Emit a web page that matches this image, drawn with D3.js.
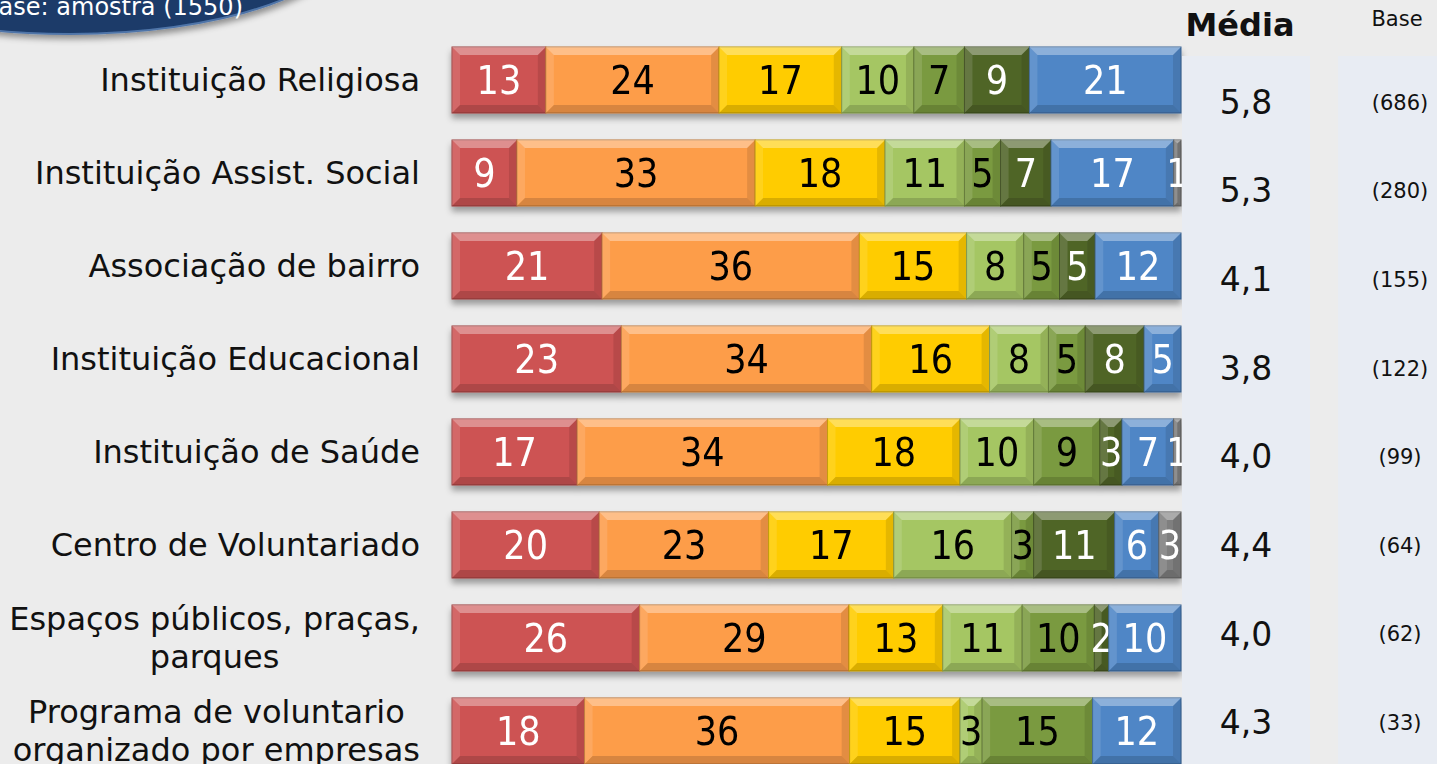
<!DOCTYPE html>
<html>
<head>
<meta charset="utf-8">
<script src="https://d3js.org/d3.v7.min.js"></script>
<style>
  html, body { margin: 0; padding: 0; background: #ececec; overflow: hidden; }
  svg { display: block; }
</style>
</head>
<body>
<svg id="drawing_region"></svg>
<script>
// categories (row labels, "\n" = line break)
const categories = [
    "Instituição Religiosa",
    "Instituição Assist. Social",
    "Associação de bairro",
    "Instituição Educacional",
    "Instituição de Saúde",
    "Centro de Voluntariado",
    "Espaços públicos, praças,\nparques",
    "Programa de voluntario\norganizado por empresas"
];

// stacked series, left to right
const serRed       = [13,  9, 21, 23, 17, 20, 26, 18];
const serOrange    = [24, 33, 36, 34, 34, 23, 29, 36];
const serYellow    = [17, 18, 15, 16, 18, 17, 13, 15];
const serLightGrn  = [10, 11,  8,  8, 10, 16, 11,  3];
const serMidGrn    = [ 7,  5,  5,  5,  9,  3, 10, 15];
const serDarkGrn   = [ 9,  7,  5,  8,  3, 11,  2,  0];
const serBlue      = [21, 17, 12,  5,  7,  6, 10, 12];
const serGray      = [ 0,  1,  0,  0,  1,  3,  0,  0];

const medias = ["5,8", "5,3", "4,1", "3,8", "4,0", "4,4", "4,0", "4,3"];
const bases  = ["(686)", "(280)", "(155)", "(122)", "(99)", "(64)", "(62)", "(33)"];

const keys   = ["red", "orange", "yellow", "lgreen", "mgreen", "dgreen", "blue", "gray"];
const colors = ["#cd5353", "#fd9d4a", "#ffcc00", "#a5c663", "#7a9a40", "#506528", "#4f86c6", "#7f7f7f"];
const textColors = ["#fff", "#000", "#000", "#000", "#000", "#fff", "#fff", "#fff"];

const table = categories.map((c, i) => ({
    cat: c,
    red: serRed[i], orange: serOrange[i], yellow: serYellow[i], lgreen: serLightGrn[i],
    mgreen: serMidGrn[i], dgreen: serDarkGrn[i], blue: serBlue[i], gray: serGray[i]
}));

var config = {
    width: 1437,
    height: 764,
    barLeft: 452,
    barRight: 1181,
    barTop: 47,
    barBottom: 764
};

const svg = d3.select('#drawing_region')
    .attr('width', config.width)
    .attr('height', config.height);

const defs = svg.append('defs');
const shadow = defs.append('filter').attr('id', 'shadow')
    .attr('x', '-5%').attr('y', '-20%').attr('width', '110%').attr('height', '160%');
shadow.append('feDropShadow')
    .attr('dx', 0).attr('dy', 5).attr('stdDeviation', 3)
    .attr('flood-color', '#000').attr('flood-opacity', 0.35);

const badgeShadow = defs.append('filter').attr('id', 'badgeShadow')
    .attr('x', '-10%').attr('y', '-10%').attr('width', '120%').attr('height', '140%');
badgeShadow.append('feDropShadow')
    .attr('dx', 2).attr('dy', 4).attr('stdDeviation', 3)
    .attr('flood-color', '#000').attr('flood-opacity', 0.4);

// top left badge (cut by the page edge, like the original)
svg.append('ellipse')
    .attr('cx', 70).attr('cy', -66).attr('rx', 282).attr('ry', 100)
    .attr('fill', '#1a3a69')
    .attr('stroke', '#4f74a8').attr('stroke-width', 2)
    .attr('filter', 'url(#badgeShadow)');
svg.append('text')
    .attr('x', 243).attr('y', 15)
    .attr('text-anchor', 'end')
    .attr('font-family', 'DejaVu Sans, Verdana, sans-serif')
    .attr('font-size', '24px')
    .attr('fill', '#fff')
    .text('Base: amostra (1550)');

// scales
const yscale = d3.scaleBand()
    .domain(categories)
    .range([config.barTop, config.barBottom])
    .paddingInner(0.29)
    .paddingOuter(0);

const tscale = d3.scaleBand()
    .domain(categories)
    .range([58, 767]);

const stacked = d3.stack().keys(keys)(table);

const rows = svg.append('g').selectAll('g')
    .data(table)
    .join('g')
    .attr('filter', 'url(#shadow)');

rows.each(function(d, i) {
    const total = d3.sum(keys, k => d[k]);
    const xscale = d3.scaleLinear()
        .domain([0, total])
        .range([config.barLeft, config.barRight]);
    const y0 = yscale(d.cat);
    const h = yscale.bandwidth();

    const segs = keys.map((k, j) => ({
        key: k, idx: j, value: d[k],
        x0: xscale(stacked[j][i][0]),
        x1: xscale(stacked[j][i][1])
    })).filter(s => s.value > 0);

    const g = d3.select(this);
    const sg = g.selectAll('g.seg').data(segs).join('g').attr('class', 'seg');

    sg.append('rect')
        .attr('x', s => s.x0)
        .attr('y', y0)
        .attr('width', s => s.x1 - s.x0)
        .attr('height', h)
        .attr('fill', s => colors[s.idx])
        .attr('stroke', s => d3.color(colors[s.idx]).darker(0.8))
        .attr('stroke-width', 1);

    // bevel faces
    const bev = s => Math.min(8, (s.x1 - s.x0) / 2);
    sg.append('polygon')
        .attr('points', s => {
            const b = bev(s);
            return [[s.x0, y0], [s.x1, y0], [s.x1 - b, y0 + b], [s.x0 + b, y0 + b]].join(' ');
        })
        .attr('fill', '#fff').attr('opacity', 0.35);
    sg.append('polygon')
        .attr('points', s => {
            const b = bev(s);
            return [[s.x0, y0 + h], [s.x1, y0 + h], [s.x1 - b, y0 + h - b], [s.x0 + b, y0 + h - b]].join(' ');
        })
        .attr('fill', '#000').attr('opacity', 0.15);
    sg.append('polygon')
        .attr('points', s => {
            const b = bev(s);
            return [[s.x0, y0], [s.x0 + b, y0 + b], [s.x0 + b, y0 + h - b], [s.x0, y0 + h]].join(' ');
        })
        .attr('fill', '#fff').attr('opacity', 0.12);
    sg.append('polygon')
        .attr('points', s => {
            const b = bev(s);
            return [[s.x1, y0], [s.x1 - b, y0 + b], [s.x1 - b, y0 + h - b], [s.x1, y0 + h]].join(' ');
        })
        .attr('fill', '#000').attr('opacity', 0.1);

    sg.append('text')
        .attr('x', s => (s.x0 + s.x1) / 2)
        .attr('y', y0 + h / 2)
        .attr('dy', '0.36em')
        .attr('text-anchor', 'middle')
        .attr('font-family', 'DejaVu Sans Condensed, DejaVu Sans, sans-serif')
        .attr('font-stretch', 'condensed')
        .attr('font-size', '39px')
        .attr('fill', s => textColors[s.idx])
        .text(s => s.value);
});

// row labels
const labels = svg.append('g');
categories.forEach(c => {
    const lines = c.split('\n');
    const cy = yscale(c) + yscale.bandwidth() / 2;
    const t = labels.append('text')
        .attr('font-family', 'DejaVu Sans, Verdana, sans-serif')
        .attr('font-size', '32px')
        .attr('fill', '#111');
    if (lines.length === 1) {
        t.attr('x', 420).attr('y', cy).attr('dy', '0.35em')
            .attr('text-anchor', 'end').text(c);
    } else {
        const lh = 38;
        lines.forEach((ln, k) => {
            t.append('tspan')
                .attr('y', cy + (k - (lines.length - 1) / 2) * lh)
                .attr('dy', '0.35em')
                .text(ln);
        });
        const w = d3.max(t.selectAll('tspan').nodes(), n => n.getComputedTextLength());
        t.attr('text-anchor', 'middle');
        t.selectAll('tspan').attr('x', 420 - w / 2);
    }
});

// table panels
svg.append('rect')
    .attr('x', 1182).attr('y', 56).attr('width', 128).attr('height', 708)
    .attr('fill', '#e8ecf3');
svg.append('rect')
    .attr('x', 1338).attr('y', 56).attr('width', 99).attr('height', 708)
    .attr('fill', '#e8ecf3');

svg.append('text')
    .attr('x', 1240).attr('y', 25).attr('dy', '0.35em')
    .attr('text-anchor', 'middle')
    .attr('font-family', 'DejaVu Sans, Verdana, sans-serif')
    .attr('font-weight', 'bold')
    .attr('font-size', '32px')
    .attr('fill', '#111')
    .text('Média');

svg.append('text')
    .attr('x', 1397).attr('y', 19).attr('dy', '0.35em')
    .attr('text-anchor', 'middle')
    .attr('font-family', 'DejaVu Sans, Verdana, sans-serif')
    .attr('font-size', '21px')
    .attr('fill', '#111')
    .text('Base');

svg.append('g').selectAll('text')
    .data(categories)
    .join('text')
    .attr('x', 1246)
    .attr('y', d => tscale(d) + tscale.bandwidth() / 2)
    .attr('dy', '0.35em')
    .attr('text-anchor', 'middle')
    .attr('font-family', 'DejaVu Sans, Verdana, sans-serif')
    .attr('font-size', '33px')
    .attr('fill', '#111')
    .text((d, i) => medias[i]);

svg.append('g').selectAll('text')
    .data(categories)
    .join('text')
    .attr('x', 1400)
    .attr('y', d => tscale(d) + tscale.bandwidth() / 2)
    .attr('dy', '0.35em')
    .attr('text-anchor', 'middle')
    .attr('font-family', 'DejaVu Sans, Verdana, sans-serif')
    .attr('font-size', '21px')
    .attr('fill', '#111')
    .text((d, i) => bases[i]);
</script>
</body>
</html>
